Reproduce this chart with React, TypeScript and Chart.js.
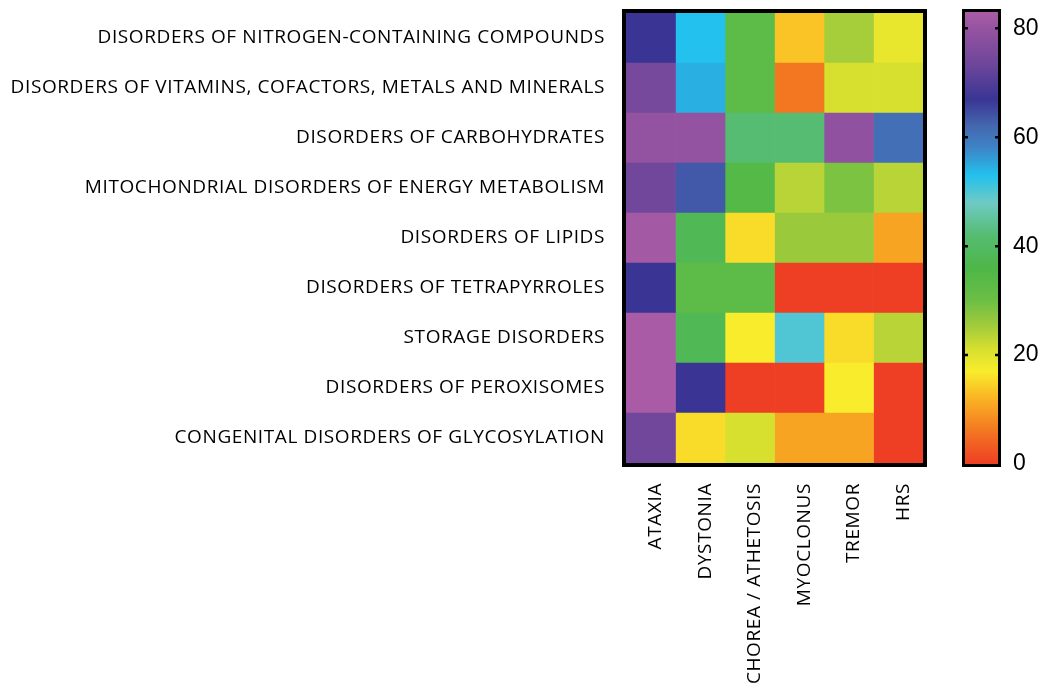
import React, { useEffect, useRef } from 'react';
import { Chart, registerables } from 'chart.js';

Chart.register(...registerables);

const disorders = [
  'DISORDERS OF NITROGEN-CONTAINING COMPOUNDS',
  'DISORDERS OF VITAMINS, COFACTORS, METALS AND MINERALS',
  'DISORDERS OF CARBOHYDRATES',
  'MITOCHONDRIAL DISORDERS OF ENERGY METABOLISM',
  'DISORDERS OF LIPIDS',
  'DISORDERS OF TETRAPYRROLES',
  'STORAGE DISORDERS',
  'DISORDERS OF PEROXISOMES',
  'CONGENITAL DISORDERS OF GLYCOSYLATION',
];

const symptoms = ['ATAXIA', 'DYSTONIA', 'CHOREA / ATHETOSIS', 'MYOCLONUS', 'TREMOR', 'HRS'];

// values per symptom column, listed in disorder order (top to bottom)
const ataxia = [67, 75, 79.5, 74, 82, 67, 83, 83, 74];
const dystonia = [53, 54.5, 79.5, 63.5, 38, 33, 38, 67, 15.5];
const chorea = [33, 33, 42, 34.5, 15.5, 33, 17, 0, 21];
const myoclonus = [13.5, 6, 42, 23.5, 26, 0, 50, 0, 10.5];
const tremor = [25, 21, 79, 28.5, 26, 0, 15.5, 17, 10.5];
const hrs = [19, 21, 61, 23.5, 10.5, 0, 23.5, 0, 0];

const columns = [ataxia, dystonia, chorea, myoclonus, tremor, hrs];

const colorbarTicks = [0, 20, 40, 60, 80];
const scaleMin = 0;
const scaleMax = 83;

// colormap stops (value -> colour)
const stopValues = [0, 6, 12, 17, 21, 25, 30, 36, 42, 48, 53, 58, 62, 67, 73, 78, 83];
const stopColors = [
  '#EE3F24', '#F37621', '#FAB324', '#F9EC2C', '#D8E02F', '#A6CD3A', '#6CBE45', '#4DB748',
  '#55BC72', '#6ECAC4', '#22C1EE', '#3D84C6', '#4468B0', '#3A3594', '#6B459B', '#8A4F9F', '#A95BA5',
];

function hexToRgb(h: string) {
  const n = parseInt(h.slice(1), 16);
  return [(n >> 16) & 255, (n >> 8) & 255, n & 255];
}

function colorFor(v: number) {
  if (v <= stopValues[0]) return stopColors[0];
  for (let i = 1; i < stopValues.length; i++) {
    if (v <= stopValues[i]) {
      const t = (v - stopValues[i - 1]) / (stopValues[i] - stopValues[i - 1]);
      const a = hexToRgb(stopColors[i - 1]);
      const b = hexToRgb(stopColors[i]);
      const c = a.map((x, k) => Math.round(x + (b[k] - x) * t));
      return `rgb(${c[0]},${c[1]},${c[2]})`;
    }
  }
  return stopColors[stopColors.length - 1];
}

const labelFont = { family: 'Open Sans', size: 19 };

const heatBorder = {
  id: 'heatBorder',
  beforeDraw(chart: any) {
    chart.ctx.letterSpacing = '0.6px';
  },
  afterDatasetsDraw(chart: any) {
    const { ctx, chartArea: a } = chart;
    ctx.save();
    ctx.strokeStyle = '#000';
    ctx.lineWidth = 4;
    ctx.strokeRect(a.left - 2, a.top - 2, a.right - a.left + 4, a.bottom - a.top + 4);
    ctx.restore();
  },
  afterDraw(chart: any) {
    chart.ctx.letterSpacing = '0px';
  },
};

const barBorder = {
  id: 'barBorder',
  afterDatasetsDraw(chart: any) {
    const { ctx, chartArea: a } = chart;
    const y = chart.scales.y;
    ctx.save();
    ctx.strokeStyle = '#000';
    ctx.lineWidth = 3;
    ctx.strokeRect(a.left - 1.5, a.top - 1.5, a.right - a.left + 3, a.bottom - a.top + 3);
    ctx.lineWidth = 2.5;
    colorbarTicks.forEach((t) => {
      if (t === scaleMin) return;
      const py = y.getPixelForValue(t);
      ctx.beginPath();
      ctx.moveTo(a.left - 3, py);
      ctx.lineTo(a.left + 3, py);
      ctx.moveTo(a.right - 3, py);
      ctx.lineTo(a.right + 3, py);
      ctx.stroke();
    });
    ctx.restore();
  },
};

const noPad = (s: any) => {
  s.paddingTop = 0;
  s.paddingBottom = 0;
  s.paddingLeft = 0;
  s.paddingRight = 0;
};

export default function App() {
  const heatRef = useRef<HTMLCanvasElement>(null);
  const barRef = useRef<HTMLCanvasElement>(null);

  useEffect(() => {
    const heat = new Chart(heatRef.current!, {
      type: 'bar',
      data: {
        labels: disorders,
        datasets: columns.map((vals, j) => ({
          label: symptoms[j],
          data: vals.map(() => 1),
          backgroundColor: vals.map(colorFor),
          borderWidth: 0,
          categoryPercentage: 1,
          barPercentage: 1,
        })),
      },
      options: {
        indexAxis: 'y',
        responsive: false,
        animation: false,
        devicePixelRatio: 1,
        layout: { padding: { top: 13, right: 127, left: 0, bottom: 0 } },
        plugins: { legend: { display: false }, tooltip: { enabled: false } },
        scales: {
          x: { type: 'linear', stacked: true, min: 0, max: symptoms.length, display: false },
          xl: {
            type: 'category',
            labels: symptoms,
            position: 'bottom',
            offset: true,
            grid: { display: false, drawTicks: false },
            border: { display: false },
            ticks: {
              autoSkip: false,
              minRotation: 90,
              maxRotation: 90,
              padding: 20,
              labelOffset: 5,
              color: '#000',
              font: labelFont,
            },
            afterFit: (s: any) => {
              s.height = 231;
              noPad(s);
            },
          },
          y: {
            type: 'category',
            stacked: true,
            grid: { display: false, drawTicks: false },
            border: { display: false },
            ticks: { padding: 21, color: '#000', font: labelFont, autoSkip: false },
            afterFit: (s: any) => {
              s.width = 626;
              noPad(s);
            },
          },
        },
      } as any,
      plugins: [heatBorder],
    });

    const bar = new Chart(barRef.current!, {
      type: 'bar',
      data: {
        labels: [''],
        datasets: [
          {
            data: [[scaleMin, scaleMax]] as any,
            borderWidth: 0,
            categoryPercentage: 1,
            barPercentage: 1,
            backgroundColor: (c: any) => {
              const chart = c.chart;
              if (!chart.chartArea) return 'transparent';
              const y = chart.scales.y;
              const g = chart.ctx.createLinearGradient(
                0,
                y.getPixelForValue(scaleMin),
                0,
                y.getPixelForValue(scaleMax)
              );
              stopValues.forEach((v, i) => g.addColorStop((v - scaleMin) / (scaleMax - scaleMin), stopColors[i]));
              return g;
            },
          },
        ],
      },
      options: {
        responsive: false,
        animation: false,
        devicePixelRatio: 1,
        layout: { padding: { left: 35, top: 12, right: 0, bottom: 230 } },
        plugins: { legend: { display: false }, tooltip: { enabled: false } },
        scales: {
          x: { display: false },
          y: {
            position: 'right',
            min: scaleMin,
            max: scaleMax,
            grid: { display: false, drawTicks: false },
            border: { display: false },
            afterBuildTicks: (s: any) => {
              s.ticks = colorbarTicks.map((v) => ({ value: v }));
            },
            ticks: {
              padding: 15,
              color: '#000',
              font: { family: 'Liberation Sans', size: 23 },
            },
            afterFit: (s: any) => {
              s.width = 52;
              noPad(s);
            },
          },
        },
      } as any,
      plugins: [barBorder],
    });

    return () => {
      heat.destroy();
      bar.destroy();
    };
  }, []);

  return (
    <div style={{ position: 'absolute', left: 0, top: 0, width: 1050, height: 694, background: '#fff' }}>
      <canvas
        ref={heatRef}
        width={1050}
        height={694}
        style={{ position: 'absolute', left: 0, top: 0, width: 1050, height: 694 }}
      />
      <canvas
        ref={barRef}
        width={120}
        height={694}
        style={{ position: 'absolute', left: 930, top: 0, width: 120, height: 694 }}
      />
    </div>
  );
}
